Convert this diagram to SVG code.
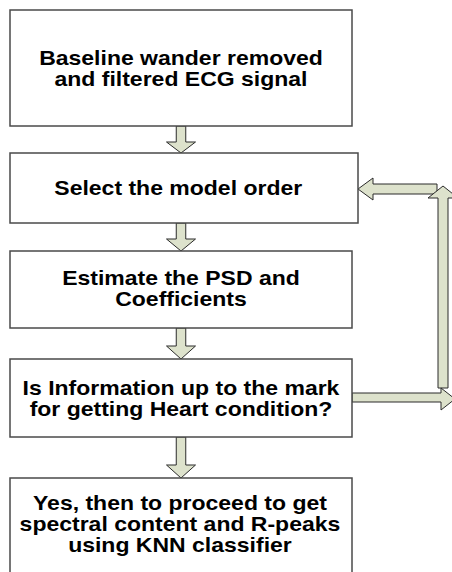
<svg xmlns="http://www.w3.org/2000/svg" width="452" height="572" viewBox="0 0 452 572">
<style>
.box{fill:#ffffff;stroke:#4a4a4a;stroke-width:1.5}
.arr{fill:#dde2cc;stroke:#2b2b2b;stroke-width:1;stroke-linejoin:miter}
.t{font-family:"Liberation Sans",Arial,sans-serif;font-weight:bold;font-size:20px;fill:#000;text-anchor:middle}
</style>
<rect width="452" height="572" fill="#ffffff"/>
<g id="connectors">
<polygon class="arr" points="176.25,126 185.75,126 185.75,142 195.5,142 181,153 166.5,142 176.25,142"/>
<polygon class="arr" points="176.25,223 185.75,223 185.75,239 195.5,239 181,251 166.5,239 176.25,239"/>
<polygon class="arr" points="176.25,328 185.75,328 185.75,346 195.5,346 181,359 166.5,346 176.25,346"/>
<polygon class="arr" points="176.25,437 185.75,437 185.75,465 195.5,465 181,478 166.5,465 176.25,465"/>
<polygon class="arr" points="358,189 373,178 373,184 437,184 437,194 373,194 373,200"/>
<polygon class="arr" points="443,186 458,198 448,198 448,388 438,388 438,198 428,198"/>
<polygon class="arr" points="352,393 441,393 441,388 455,399 441,410 441,402 352,402"/>
</g>
<g id="node1">
<rect class="box" x="10" y="10" width="342" height="116"/>
<g transform="scale(1.15,1)">
<text class="t" x="157.4" y="65">Baseline wander removed</text>
<text class="t" x="157.4" y="86">and filtered ECG signal</text>
</g>
</g>
<g id="node2">
<rect class="box" x="10" y="153" width="348" height="70"/>
<g transform="scale(1.15,1)">
<text class="t" x="155" y="195">Select the model order</text>
</g>
</g>
<g id="node3">
<rect class="box" x="10" y="251" width="342" height="77"/>
<g transform="scale(1.15,1)">
<text class="t" x="157.4" y="285">Estimate the PSD and</text>
<text class="t" x="157.4" y="306">Coefficients</text>
</g>
</g>
<g id="node4">
<rect class="box" x="10" y="359" width="342" height="78"/>
<g transform="scale(1.15,1)">
<text class="t" x="157.4" y="395">Is Information up to the mark</text>
<text class="t" x="157.4" y="416">for getting Heart condition?</text>
</g>
</g>
<g id="node5">
<rect class="box" x="10" y="478" width="342" height="110"/>
<g transform="scale(1.15,1)">
<text class="t" x="156.5" y="510">Yes, then to proceed to get</text>
<text class="t" x="156.5" y="531">spectral content and R-peaks</text>
<text class="t" x="156.5" y="552">using KNN classifier</text>
</g>
</g>
</svg>
